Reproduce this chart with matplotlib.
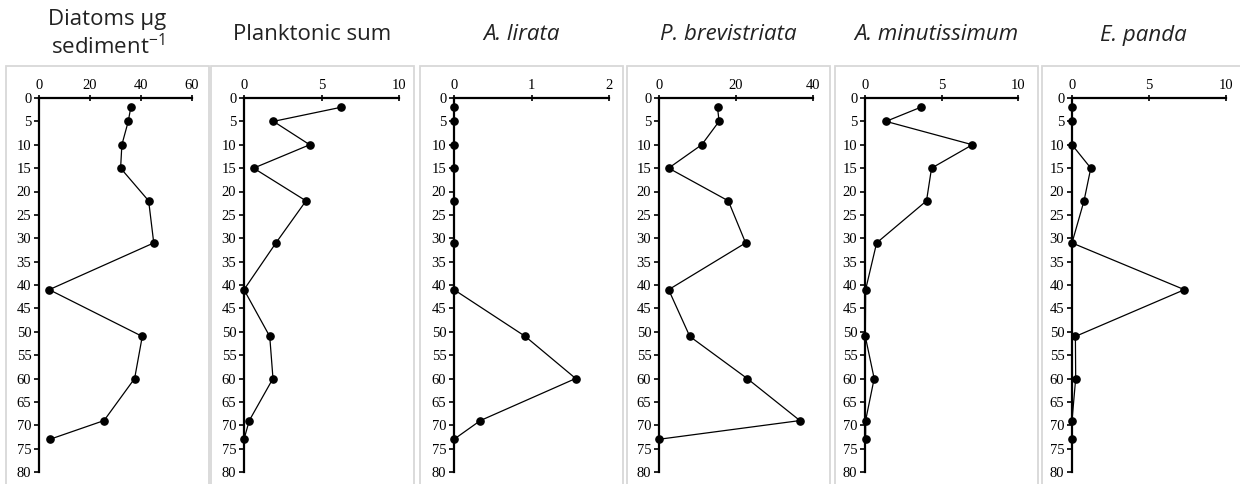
import matplotlib
matplotlib.use("Agg")
import matplotlib.pyplot as plt
from matplotlib.patches import Rectangle

depths = [2, 5, 10, 15, 22, 31, 41, 51, 60, 69, 73]
diatoms = [36, 35, 32.5, 32, 43, 45, 4, 40.5, 37.5, 25.5, 4.3]
planktonic = [6.24, 1.9, 4.24, 0.62, 4.0, 2.06, 0.0, 1.66, 1.87, 0.34, 0.0]
a_lirata = [0, 0, 0, 0, 0, 0, 0, 0.92, 1.57, 0.34, 0]
p_brevistriata = [15.2, 15.6, 11.1, 2.5, 18.0, 22.5, 2.5, 8.0, 22.9, 36.6, 0]
a_minutissimum = [3.63, 1.37, 7.02, 4.35, 4.02, 0.76, 0.04, 0.02, 0.6, 0.04, 0.04]
e_panda = [0, 0, 0, 1.22, 0.78, 0, 7.3, 0.22, 0.24, 0, 0]

series = [diatoms, planktonic, a_lirata, p_brevistriata, a_minutissimum, e_panda]
titles = ["Diatoms \u03bcg\nsediment$^{-1}$", "Planktonic sum", "A. lirata",
          "P. brevistriata", "A. minutissimum", "E. panda"]
italic = [False, False, True, True, True, True]
xmax = [60, 10, 2, 40, 10, 10]
xstep = [20, 5, 1, 20, 5, 5]
y_ticks = list(range(0, 85, 5))

plt.rcParams['mathtext.fontset'] = 'custom'
plt.rcParams['mathtext.rm'] = 'Open Sans'

W, H = 1240, 484
fig = plt.figure(figsize=(W / 100, H / 100), dpi=100)

ax_left = [39, 244, 454, 659, 865, 1072]
ax_w = [153, 155, 155, 154, 153, 154]
box_left = [6, 211, 420, 627, 835, 1042]
box_w = 203
ax_top, ax_bot = 98, 472
box_top = 66

for i in range(6):
    # panel frame
    fig.patches.append(Rectangle((box_left[i] / W, -0.01), box_w / W, (H - box_top) / H + 0.01,
                                 transform=fig.transFigure, fill=False,
                                 edgecolor='#d8d8d8', linewidth=1.3))
    ax = fig.add_axes([ax_left[i] / W, (H - ax_bot) / H, ax_w[i] / W, (ax_bot - ax_top) / H])
    ax.plot(series[i], depths, color='black', linewidth=0.9, marker='o',
            markersize=5.2, clip_on=False, zorder=5)
    ax.set_xlim(0, xmax[i])
    ax.set_ylim(80, 0)
    ax.set_xticks(list(range(0, xmax[i] + 1, xstep[i])))
    ax.set_yticks(y_ticks)
    ax.xaxis.tick_top()
    ax.spines['right'].set_visible(False)
    ax.spines['bottom'].set_visible(False)
    for s in ['left', 'top']:
        ax.spines[s].set_linewidth(1.6)
    ax.tick_params(axis='y', direction='out', length=3.5, width=1.2,
                   labelsize=10.5, pad=2)
    ax.tick_params(axis='x', direction='inout', length=5, width=1.2,
                   labelsize=10.5, pad=2)
    for lab in ax.get_xticklabels() + ax.get_yticklabels():
        lab.set_fontfamily('Liberation Serif')
    ax.patch.set_alpha(0)
    cx = (box_left[i] + box_w / 2) / W
    if i == 0:
        fig.text(cx, 1 - 34 / H, titles[i], ha='center', va='center',
                 fontsize=16, family='Open Sans', linespacing=1.18, color='#222222')
    else:
        fig.text(cx, 1 - 35 / H, titles[i], ha='center', va='center',
                 fontsize=16, family='Open Sans', color='#222222',
                 style='italic' if italic[i] else 'normal')

fig.savefig("out.png", dpi=100, facecolor='white')
